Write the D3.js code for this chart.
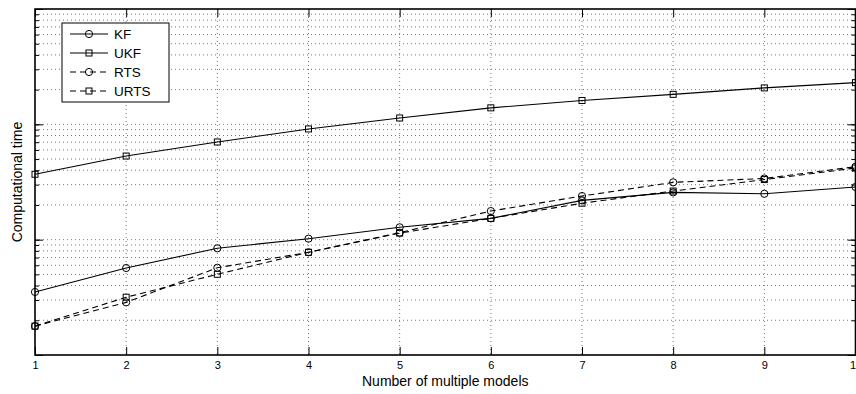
<!DOCTYPE html>
<html>
<head>
<meta charset="utf-8">
<script src="https://cdn.jsdelivr.net/npm/d3@7"></script>
<style>
  body { margin: 0; background: #fff; }
  svg { display: block; font-family: "Liberation Sans", Arial, sans-serif; }
  .grid line { stroke: #777; stroke-width: 1; stroke-dasharray: 1,3; }
</style>
</head>
<body>
<svg id="chart" width="856" height="394"></svg>
<script>
// number of models on the x axis
var models = [1, 2, 3, 4, 5, 6, 7, 8, 9, 10];
var xTickLabels = ["1", "2", "3", "4", "5", "6", "7", "8", "9", "10"];

// computational time (log axis)
var kf   = [0.00352, 0.00568, 0.00842, 0.0102, 0.0128, 0.0153, 0.0219, 0.0257, 0.0250, 0.0286];
var ukf  = [0.0369, 0.0531, 0.0703, 0.0912, 0.1135, 0.139, 0.161, 0.182, 0.207, 0.230];
var rts  = [0.00178, 0.00286, 0.00571, 0.00777, 0.0115, 0.0177, 0.0239, 0.0314, 0.0339, 0.0429];
var urts = [0.00178, 0.00317, 0.00501, 0.00777, 0.0114, 0.0153, 0.0207, 0.0264, 0.0332, 0.0418];

var seriesNames = ["KF", "UKF", "RTS", "URTS"];

function drawChart() {
    var svg = d3.select("#chart");
    var pLeft = 35, pRight = 855.5, pTop = 9, pBottom = 355;

    var x = d3.scaleLinear().domain([1, 10]).range([pLeft, pRight]);
    var y = d3.scaleLog().domain([0.001, 1]).range([pBottom, pTop]);

    var yMinor = y.ticks();
    var yMajor = [0.001, 0.01, 0.1, 1];

    // grid
    var grid = svg.append("g").attr("class", "grid");
    grid.selectAll(".gx")
        .data(models.slice(1, -1))
        .enter().append("line")
        .attr("x1", function(d) { return x(d); })
        .attr("x2", function(d) { return x(d); })
        .attr("y1", pTop).attr("y2", pBottom);
    grid.selectAll(".gy")
        .data(yMinor.filter(function(d) { return d > 0.001 && d < 1; }))
        .enter().append("line")
        .attr("x1", pLeft).attr("x2", pRight)
        .attr("y1", function(d) { return y(d); })
        .attr("y2", function(d) { return y(d); });

    // axes (ticks inward, on all four sides)
    function styleAxis(g) {
        g.select(".domain").remove();
        g.selectAll(".tick line").attr("stroke", "#000").attr("stroke-width", 1);
    }

    svg.append("g")
       .attr("transform", "translate(0," + pBottom + ")")
       .call(d3.axisBottom(x).tickValues(models).tickSize(-8).tickPadding(6)
              .tickFormat(function(d, i) { return xTickLabels[i]; }))
       .call(styleAxis)
       .selectAll("text")
       .attr("font-size", 11)
       .attr("font-family", "Liberation Sans, Arial, sans-serif")
       .attr("fill", "#000");

    svg.append("g")
       .attr("transform", "translate(0," + pTop + ")")
       .call(d3.axisTop(x).tickValues(models).tickSize(-8).tickFormat(""))
       .call(styleAxis);

    svg.append("g")
       .attr("transform", "translate(" + pLeft + ",0)")
       .call(d3.axisLeft(y).tickValues(yMinor).tickSize(-4).tickFormat(""))
       .call(styleAxis);
    svg.append("g")
       .attr("transform", "translate(" + pLeft + ",0)")
       .call(d3.axisLeft(y).tickValues(yMajor).tickSize(-8).tickFormat(""))
       .call(styleAxis);
    svg.append("g")
       .attr("transform", "translate(" + pRight + ",0)")
       .call(d3.axisRight(y).tickValues(yMinor).tickSize(-4).tickFormat(""))
       .call(styleAxis);
    svg.append("g")
       .attr("transform", "translate(" + pRight + ",0)")
       .call(d3.axisRight(y).tickValues(yMajor).tickSize(-8).tickFormat(""))
       .call(styleAxis);

    // box
    svg.append("rect")
       .attr("x", pLeft).attr("y", pTop)
       .attr("width", pRight - pLeft).attr("height", pBottom - pTop)
       .attr("fill", "none").attr("stroke", "#000").attr("stroke-width", 1.6);

    // series
    var series = [
        { name: seriesNames[0], values: kf,   dash: null,  marker: "circle" },
        { name: seriesNames[1], values: ukf,  dash: null,  marker: "square" },
        { name: seriesNames[2], values: rts,  dash: "6,4", marker: "circle" },
        { name: seriesNames[3], values: urts, dash: "6,4", marker: "square" }
    ];

    var line = d3.line()
        .x(function(d, i) { return x(models[i]); })
        .y(function(d) { return y(d); });

    function drawMarker(g, type, cx, cy) {
        if (type === "circle") {
            g.append("circle").attr("cx", cx).attr("cy", cy).attr("r", 3.6)
             .attr("fill", "none").attr("stroke", "#000").attr("stroke-width", 1);
        } else {
            g.append("rect").attr("x", cx - 3).attr("y", cy - 3)
             .attr("width", 6).attr("height", 6)
             .attr("fill", "none").attr("stroke", "#000").attr("stroke-width", 1);
        }
    }

    series.forEach(function(s) {
        svg.append("path")
           .datum(s.values)
           .attr("d", line)
           .attr("fill", "none")
           .attr("stroke", "#000")
           .attr("stroke-width", 1.1)
           .attr("stroke-dasharray", s.dash);
        var mg = svg.append("g");
        s.values.forEach(function(v, i) {
            drawMarker(mg, s.marker, x(models[i]), y(v));
        });
    });

    // legend
    var legend = svg.append("g");
    legend.append("rect")
          .attr("x", 62).attr("y", 23).attr("width", 107).attr("height", 79)
          .attr("fill", "#fff").attr("stroke", "#000").attr("stroke-width", 1);
    series.forEach(function(s, i) {
        var ly = 34 + i * 19;
        legend.append("line")
              .attr("x1", 70).attr("x2", 108).attr("y1", ly).attr("y2", ly)
              .attr("stroke", "#000").attr("stroke-width", 1.1)
              .attr("stroke-dasharray", s.dash);
        drawMarker(legend, s.marker, 89, ly);
        legend.append("text")
              .attr("x", 114).attr("y", ly + 5)
              .attr("font-size", 13.5)
              .text(s.name);
    });

    // axis titles
    svg.append("text")
       .attr("x", (pLeft + pRight) / 2).attr("y", 386)
       .attr("text-anchor", "middle")
       .attr("font-size", 14)
       .text("Number of multiple models");

    svg.append("text")
       .attr("transform", "translate(22," + ((pTop + pBottom) / 2) + ") rotate(-90)")
       .attr("text-anchor", "middle")
       .attr("font-size", 14)
       .text("Computational time");
}

drawChart();
</script>
</body>
</html>
